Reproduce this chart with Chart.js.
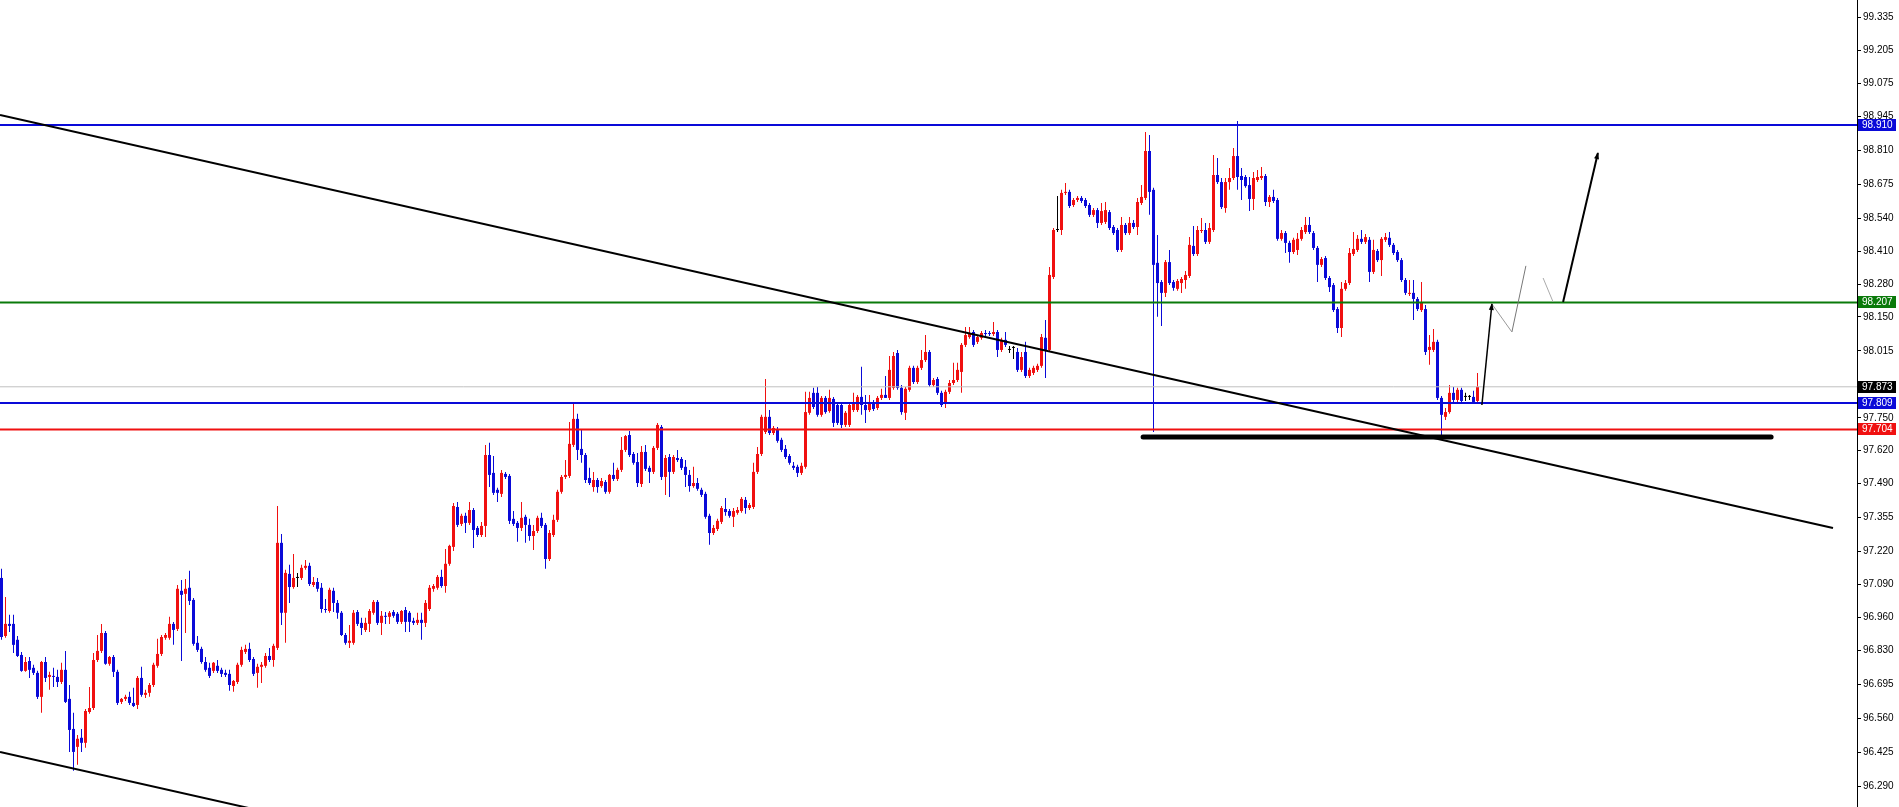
<!DOCTYPE html>
<html>
<head>
<meta charset="utf-8">
<title>USDX H1</title>
<script src="https://cdn.jsdelivr.net/npm/chart.js@4.4.1/dist/chart.umd.min.js"></script>
<style>
  html, body { margin: 0; padding: 0; background: #fff; overflow: hidden; }
  #wrap { width: 1899px; height: 807px; }
</style>
</head>
<body>
<div id="wrap"><canvas id="priceChart" width="1899" height="807"></canvas></div>
<script>
// OHLC per bar, oldest first
const opens = [
  97.116, 96.886, 96.934, 96.934, 96.871, 96.811, 96.748, 96.787, 96.760, 96.740,
  96.645, 96.783, 96.724, 96.728, 96.724, 96.704, 96.752, 96.637, 96.518, 96.447,
  96.483, 96.463, 96.585, 96.601, 96.791, 96.827, 96.898, 96.776, 96.803, 96.744,
  96.625, 96.637, 96.645, 96.621, 96.613, 96.720, 96.653, 96.661, 96.692, 96.768,
  96.815, 96.879, 96.879, 96.934, 96.914, 97.065, 97.053, 97.077, 97.029, 96.859,
  96.835, 96.783, 96.760, 96.748, 96.768, 96.752, 96.740, 96.736, 96.688, 96.704,
  96.772, 96.823, 96.835, 96.795, 96.740, 96.764, 96.768, 96.807, 96.791, 96.839,
  97.255, 96.978, 97.132, 97.080, 97.116, 97.116, 97.156, 97.164, 97.088, 97.100,
  97.077, 96.993, 96.985, 97.065, 97.017, 96.978, 96.890, 96.859, 96.859, 96.981,
  96.938, 96.910, 96.934, 96.978, 97.021, 96.938, 96.966, 96.962, 96.981, 96.974,
  96.942, 96.989, 96.978, 96.946, 96.938, 96.950, 96.938, 96.993, 97.073, 97.077,
  97.120, 97.084, 97.172, 97.239, 97.397, 97.330, 97.362, 97.334, 97.385, 97.314,
  97.286, 97.322, 97.603, 97.532, 97.465, 97.449, 97.528, 97.520, 97.350, 97.334,
  97.314, 97.358, 97.326, 97.282, 97.302, 97.354, 97.326, 97.191, 97.286, 97.346,
  97.457, 97.516, 97.520, 97.643, 97.746, 97.627, 97.603, 97.512, 97.476, 97.504,
  97.480, 97.496, 97.457, 97.524, 97.508, 97.544, 97.623, 97.682, 97.607, 97.575,
  97.488, 97.615, 97.552, 97.536, 97.631, 97.714, 97.516, 97.595, 97.536, 97.591,
  97.587, 97.556, 97.524, 97.480, 97.492, 97.465, 97.449, 97.362, 97.294, 97.310,
  97.338, 97.389, 97.381, 97.358, 97.374, 97.381, 97.425, 97.393, 97.397, 97.536,
  97.607, 97.694, 97.754, 97.690, 97.706, 97.663, 97.627, 97.599, 97.560, 97.556,
  97.532, 97.556, 97.770, 97.849, 97.849, 97.762, 97.829, 97.777, 97.825, 97.801,
  97.801, 97.722, 97.722, 97.781, 97.781, 97.833, 97.801, 97.781, 97.809, 97.789,
  97.829, 97.841, 97.829, 97.869, 98.007, 97.869, 97.770, 97.861, 97.948, 97.892,
  97.948, 97.979, 98.011, 97.880, 97.904, 97.849, 97.809, 97.853, 97.888, 97.900,
  97.932, 98.039, 98.070, 98.090, 98.051, 98.067, 98.086, 98.086, 98.082, 98.090,
  98.019, 98.059, 98.019, 98.027, 98.011, 97.940, 98.011, 97.916, 97.928, 97.940,
  97.956, 98.067, 98.019, 98.308, 98.494, 98.494, 98.641, 98.645, 98.593, 98.613,
  98.621, 98.613, 98.593, 98.554, 98.573, 98.522, 98.526, 98.565, 98.506, 98.494,
  98.415, 98.514, 98.482, 98.522, 98.506, 98.601, 98.621, 98.807, 98.653, 98.364,
  98.288, 98.245, 98.367, 98.288, 98.261, 98.284, 98.296, 98.312, 98.431, 98.399,
  98.490, 98.494, 98.447, 98.494, 98.712, 98.684, 98.581, 98.684, 98.700, 98.787,
  98.708, 98.704, 98.672, 98.617, 98.692, 98.700, 98.708, 98.605, 98.625, 98.613,
  98.459, 98.482, 98.443, 98.407, 98.415, 98.459, 98.486, 98.514, 98.482, 98.423,
  98.356, 98.383, 98.304, 98.276, 98.181, 98.106, 98.261, 98.284, 98.399, 98.415,
  98.459, 98.447, 98.455, 98.328, 98.411, 98.375, 98.455, 98.463, 98.435, 98.407,
  98.375, 98.296, 98.241, 98.245, 98.221, 98.177, 98.181, 98.019, 98.019, 98.051,
  97.829, 97.754, 97.773, 97.849, 97.821, 97.861, 97.833, 97.833, 97.833, 97.817
];
const highs = [
  97.152, 97.041, 96.970, 96.970, 96.886, 96.823, 96.803, 96.803, 96.772, 96.748,
  96.787, 96.803, 96.744, 96.760, 96.752, 96.780, 96.827, 96.692, 96.582, 96.494,
  96.518, 96.597, 96.684, 96.819, 96.890, 96.934, 96.906, 96.807, 96.811, 96.752,
  96.641, 96.653, 96.665, 96.681, 96.728, 96.764, 96.673, 96.700, 96.780, 96.875,
  96.890, 96.898, 96.962, 96.942, 97.088, 97.108, 97.112, 97.144, 97.037, 96.886,
  96.843, 96.803, 96.780, 96.783, 96.791, 96.760, 96.752, 96.752, 96.712, 96.780,
  96.843, 96.851, 96.859, 96.803, 96.776, 96.783, 96.819, 96.839, 96.855, 97.401,
  97.290, 97.148, 97.168, 97.211, 97.136, 97.168, 97.187, 97.176, 97.120, 97.116,
  97.096, 97.033, 97.077, 97.077, 97.029, 96.985, 96.898, 96.930, 96.989, 96.989,
  96.958, 96.958, 96.993, 97.029, 97.029, 96.985, 96.981, 96.985, 96.989, 96.981,
  96.989, 97.001, 96.985, 96.958, 96.978, 96.978, 97.029, 97.088, 97.092, 97.128,
  97.148, 97.231, 97.247, 97.413, 97.417, 97.370, 97.374, 97.417, 97.393, 97.322,
  97.338, 97.643, 97.651, 97.599, 97.473, 97.544, 97.536, 97.528, 97.381, 97.342,
  97.417, 97.366, 97.350, 97.326, 97.362, 97.374, 97.334, 97.306, 97.366, 97.465,
  97.524, 97.583, 97.734, 97.813, 97.766, 97.702, 97.611, 97.552, 97.536, 97.512,
  97.512, 97.504, 97.528, 97.572, 97.552, 97.674, 97.682, 97.698, 97.615, 97.611,
  97.639, 97.643, 97.560, 97.639, 97.730, 97.722, 97.603, 97.607, 97.603, 97.623,
  97.595, 97.583, 97.544, 97.556, 97.512, 97.473, 97.457, 97.370, 97.326, 97.350,
  97.401, 97.433, 97.389, 97.393, 97.397, 97.437, 97.437, 97.413, 97.572, 97.635,
  97.762, 97.904, 97.781, 97.718, 97.714, 97.671, 97.643, 97.607, 97.575, 97.564,
  97.572, 97.853, 97.853, 97.869, 97.872, 97.837, 97.837, 97.861, 97.833, 97.809,
  97.809, 97.777, 97.809, 97.849, 97.841, 97.952, 97.841, 97.841, 97.821, 97.837,
  97.865, 97.916, 97.995, 98.011, 98.019, 97.880, 97.872, 97.956, 97.956, 97.956,
  98.019, 98.078, 98.019, 97.908, 97.912, 97.857, 97.861, 97.900, 97.968, 97.968,
  98.047, 98.110, 98.110, 98.098, 98.078, 98.094, 98.098, 98.094, 98.130, 98.098,
  98.067, 98.090, 98.035, 98.035, 98.027, 98.011, 98.051, 97.948, 97.956, 97.964,
  98.082, 98.138, 98.348, 98.502, 98.629, 98.653, 98.680, 98.653, 98.621, 98.629,
  98.629, 98.621, 98.601, 98.581, 98.581, 98.601, 98.605, 98.573, 98.514, 98.502,
  98.546, 98.522, 98.546, 98.534, 98.621, 98.672, 98.882, 98.870, 98.661, 98.474,
  98.296, 98.375, 98.415, 98.296, 98.300, 98.308, 98.332, 98.466, 98.510, 98.510,
  98.542, 98.522, 98.522, 98.791, 98.779, 98.700, 98.700, 98.740, 98.819, 98.926,
  98.740, 98.712, 98.704, 98.724, 98.732, 98.744, 98.716, 98.633, 98.653, 98.621,
  98.494, 98.490, 98.451, 98.463, 98.482, 98.506, 98.546, 98.546, 98.490, 98.431,
  98.387, 98.391, 98.312, 98.284, 98.189, 98.288, 98.296, 98.423, 98.486, 98.474,
  98.494, 98.478, 98.466, 98.455, 98.419, 98.466, 98.482, 98.486, 98.443, 98.415,
  98.383, 98.304, 98.296, 98.296, 98.229, 98.288, 98.197, 98.078, 98.102, 98.059,
  97.837, 97.789, 97.880, 97.872, 97.869, 97.869, 97.849, 97.841, 97.857, 97.928
];
const lows = [
  96.871, 96.879, 96.902, 96.819, 96.803, 96.744, 96.744, 96.720, 96.732, 96.637,
  96.582, 96.704, 96.673, 96.684, 96.684, 96.696, 96.621, 96.427, 96.352, 96.376,
  96.427, 96.443, 96.578, 96.593, 96.783, 96.819, 96.772, 96.768, 96.724, 96.613,
  96.617, 96.629, 96.613, 96.605, 96.597, 96.645, 96.641, 96.645, 96.684, 96.760,
  96.807, 96.871, 96.871, 96.851, 96.906, 96.787, 96.898, 97.009, 96.847, 96.823,
  96.776, 96.744, 96.720, 96.740, 96.740, 96.724, 96.724, 96.669, 96.665, 96.696,
  96.764, 96.815, 96.783, 96.728, 96.681, 96.700, 96.760, 96.783, 96.764, 96.831,
  96.930, 96.859, 97.017, 97.073, 97.080, 97.108, 97.148, 97.084, 97.080, 97.061,
  96.978, 96.978, 96.978, 96.981, 96.954, 96.886, 96.851, 96.839, 96.851, 96.926,
  96.890, 96.902, 96.902, 96.970, 96.930, 96.890, 96.934, 96.934, 96.958, 96.934,
  96.934, 96.902, 96.902, 96.930, 96.930, 96.871, 96.922, 96.985, 97.061, 97.069,
  97.077, 97.057, 97.164, 97.223, 97.318, 97.322, 97.294, 97.326, 97.235, 97.278,
  97.278, 97.278, 97.476, 97.445, 97.417, 97.437, 97.508, 97.330, 97.322, 97.259,
  97.302, 97.255, 97.263, 97.227, 97.294, 97.314, 97.152, 97.183, 97.278, 97.338,
  97.449, 97.508, 97.512, 97.635, 97.583, 97.572, 97.492, 97.484, 97.457, 97.453,
  97.473, 97.449, 97.449, 97.500, 97.500, 97.536, 97.615, 97.595, 97.564, 97.476,
  97.476, 97.540, 97.492, 97.528, 97.623, 97.504, 97.445, 97.437, 97.528, 97.575,
  97.544, 97.476, 97.457, 97.473, 97.461, 97.437, 97.350, 97.247, 97.286, 97.302,
  97.330, 97.362, 97.354, 97.318, 97.366, 97.374, 97.370, 97.385, 97.389, 97.528,
  97.599, 97.686, 97.682, 97.682, 97.651, 97.615, 97.587, 97.564, 97.544, 97.516,
  97.524, 97.548, 97.762, 97.785, 97.754, 97.754, 97.766, 97.770, 97.714, 97.722,
  97.710, 97.714, 97.714, 97.773, 97.773, 97.762, 97.730, 97.773, 97.777, 97.781,
  97.821, 97.829, 97.821, 97.861, 97.861, 97.762, 97.742, 97.853, 97.884, 97.884,
  97.940, 97.971, 97.872, 97.872, 97.841, 97.793, 97.789, 97.845, 97.880, 97.892,
  97.849, 98.031, 98.063, 98.031, 98.043, 98.059, 98.074, 98.074, 98.074, 97.991,
  98.011, 98.031, 98.007, 97.983, 97.932, 97.932, 97.908, 97.908, 97.920, 97.932,
  97.948, 97.908, 98.011, 98.300, 98.486, 98.474, 98.633, 98.581, 98.585, 98.605,
  98.601, 98.581, 98.546, 98.546, 98.502, 98.514, 98.518, 98.494, 98.474, 98.407,
  98.407, 98.474, 98.474, 98.498, 98.474, 98.593, 98.613, 98.554, 97.694, 98.150,
  98.114, 98.229, 98.276, 98.253, 98.253, 98.245, 98.261, 98.304, 98.391, 98.391,
  98.482, 98.439, 98.439, 98.486, 98.676, 98.577, 98.562, 98.653, 98.692, 98.653,
  98.613, 98.661, 98.569, 98.573, 98.684, 98.692, 98.589, 98.585, 98.601, 98.451,
  98.451, 98.403, 98.364, 98.399, 98.395, 98.451, 98.478, 98.478, 98.415, 98.288,
  98.348, 98.296, 98.249, 98.169, 98.086, 98.070, 98.253, 98.276, 98.391, 98.407,
  98.439, 98.439, 98.288, 98.320, 98.367, 98.312, 98.447, 98.427, 98.395, 98.367,
  98.288, 98.237, 98.233, 98.138, 98.173, 98.169, 97.999, 97.960, 98.011, 97.821,
  97.674, 97.742, 97.766, 97.813, 97.813, 97.809, 97.817, 97.821, 97.805, 97.809
];
const closes = [
  96.882, 96.934, 96.926, 96.851, 96.807, 96.748, 96.783, 96.752, 96.740, 96.645,
  96.783, 96.720, 96.732, 96.724, 96.704, 96.752, 96.625, 96.514, 96.427, 96.479,
  96.463, 96.589, 96.601, 96.791, 96.827, 96.898, 96.776, 96.803, 96.744, 96.621,
  96.637, 96.645, 96.621, 96.609, 96.720, 96.653, 96.661, 96.692, 96.772, 96.815,
  96.882, 96.890, 96.934, 96.910, 97.073, 97.049, 97.073, 97.025, 96.855, 96.831,
  96.783, 96.752, 96.728, 96.780, 96.748, 96.736, 96.732, 96.692, 96.708, 96.772,
  96.831, 96.835, 96.791, 96.736, 96.764, 96.772, 96.807, 96.791, 96.847, 97.255,
  96.978, 97.136, 97.080, 97.116, 97.116, 97.156, 97.164, 97.092, 97.100, 97.073,
  96.993, 96.989, 97.069, 97.017, 96.978, 96.890, 96.859, 96.867, 96.978, 96.934,
  96.918, 96.938, 96.985, 97.021, 96.938, 96.966, 96.962, 96.978, 96.966, 96.942,
  96.985, 96.942, 96.942, 96.938, 96.950, 96.938, 97.017, 97.077, 97.084, 97.120,
  97.084, 97.172, 97.243, 97.401, 97.326, 97.362, 97.334, 97.385, 97.306, 97.286,
  97.322, 97.603, 97.524, 97.453, 97.453, 97.532, 97.516, 97.342, 97.330, 97.314,
  97.354, 97.326, 97.282, 97.302, 97.354, 97.322, 97.191, 97.294, 97.346, 97.457,
  97.516, 97.524, 97.647, 97.746, 97.623, 97.603, 97.504, 97.492, 97.504, 97.476,
  97.500, 97.457, 97.524, 97.508, 97.544, 97.623, 97.678, 97.603, 97.572, 97.492,
  97.615, 97.548, 97.536, 97.631, 97.722, 97.516, 97.591, 97.536, 97.595, 97.583,
  97.552, 97.524, 97.480, 97.492, 97.469, 97.445, 97.358, 97.294, 97.314, 97.342,
  97.393, 97.377, 97.362, 97.381, 97.385, 97.429, 97.393, 97.405, 97.536, 97.607,
  97.754, 97.754, 97.690, 97.710, 97.659, 97.623, 97.595, 97.572, 97.552, 97.532,
  97.560, 97.773, 97.829, 97.793, 97.762, 97.829, 97.773, 97.829, 97.730, 97.730,
  97.722, 97.770, 97.801, 97.805, 97.833, 97.801, 97.781, 97.809, 97.785, 97.829,
  97.841, 97.829, 97.940, 97.995, 97.869, 97.773, 97.865, 97.948, 97.892, 97.948,
  97.979, 98.011, 97.880, 97.900, 97.849, 97.801, 97.853, 97.888, 97.900, 97.940,
  98.039, 98.078, 98.086, 98.039, 98.070, 98.086, 98.082, 98.082, 98.090, 98.019,
  98.059, 98.039, 98.019, 98.027, 97.940, 97.991, 97.916, 97.940, 97.948, 97.956,
  98.070, 98.019, 98.316, 98.494, 98.494, 98.641, 98.645, 98.589, 98.613, 98.621,
  98.609, 98.589, 98.554, 98.573, 98.522, 98.569, 98.573, 98.502, 98.482, 98.415,
  98.514, 98.482, 98.522, 98.506, 98.605, 98.625, 98.807, 98.645, 98.356, 98.284,
  98.245, 98.367, 98.284, 98.265, 98.292, 98.300, 98.316, 98.435, 98.399, 98.494,
  98.494, 98.447, 98.502, 98.712, 98.684, 98.585, 98.684, 98.700, 98.787, 98.704,
  98.692, 98.668, 98.617, 98.700, 98.704, 98.708, 98.605, 98.625, 98.609, 98.459,
  98.482, 98.443, 98.407, 98.455, 98.459, 98.494, 98.514, 98.486, 98.423, 98.356,
  98.379, 98.304, 98.268, 98.177, 98.106, 98.261, 98.284, 98.403, 98.419, 98.459,
  98.447, 98.466, 98.328, 98.415, 98.375, 98.459, 98.466, 98.435, 98.403, 98.375,
  98.296, 98.245, 98.245, 98.221, 98.181, 98.209, 98.011, 98.031, 98.051, 97.829,
  97.762, 97.773, 97.849, 97.821, 97.861, 97.817, 97.833, 97.833, 97.813, 97.873
];

// price scale labels as shown by the terminal
const priceTicks = [99.335, 99.205, 99.075, 98.945, 98.810, 98.675, 98.540, 98.410, 98.280, 98.150,
  98.015, 97.750, 97.620, 97.490, 97.355, 97.220, 97.090, 96.960, 96.830, 96.695, 96.560, 96.425, 96.290];

// horizontal levels: resistance, target, bid, support, support
const levelPrices = [98.910, 98.207, 97.873, 97.809, 97.704];

// drawn objects, [bar index, price]
const trendUpper = [[-0.375, 98.950], [457.875, 97.314]];
const trendLower = [[-0.375, 96.427], [74.6, 96.159]];
const supportZone = [[285.4, 97.674], [442.4, 97.674]];
const pathLegs = [
  [[370.1, 97.801], [372.6, 98.201]],
  [[372.6, 98.201], [377.6, 98.090]],
  [[377.6, 98.090], [381.1, 98.352]],
  [[385.4, 98.304], [387.9, 98.209]],
  [[390.4, 98.209], [399.1, 98.799]]
];

const RED = '#f01010';
const BLUE = '#0a0ad8';
const levelColors = [BLUE, '#0a7a0a', '#c0c0c0', BLUE, '#f01010'];
const levelWidths = [2, 2, 1, 2, 2];
const boxColors = [BLUE, '#0a7a0a', '#000000', BLUE, '#f01010'];
const legColors = ['#000', '#999', '#777', '#aaa', '#000'];
const legWidths = [1.5, 1, 1, 1, 2];
const legArrow = [true, false, false, false, true];

const candleColors = opens.map((o, i) => closes[i] > o ? RED : (closes[i] < o ? BLUE : '#000'));

const toPts = arr => arr.map(p => ({ x: p[0], y: p[1] }));

const datasets = [];

levelPrices.forEach((p, k) => {
  datasets.push({
    type: 'line',
    data: [{ x: -1, y: p }, { x: 470, y: p }],
    borderColor: levelColors[k],
    borderWidth: levelWidths[k],
    pointRadius: 0,
    order: 5
  });
});

[trendUpper, trendLower].forEach(t => {
  datasets.push({
    type: 'line',
    data: toPts(t),
    borderColor: '#000',
    borderWidth: 2,
    pointRadius: 0,
    order: 4
  });
});

datasets.push({
  type: 'line',
  data: toPts(supportZone),
  borderColor: '#000',
  borderWidth: 5,
  borderCapStyle: 'round',
  pointRadius: 0,
  order: 3
});

pathLegs.forEach((leg, k) => {
  datasets.push({
    type: 'line',
    data: toPts(leg),
    borderColor: legColors[k],
    borderWidth: legWidths[k],
    pointRadius: 0,
    arrowHead: legArrow[k],
    order: 2
  });
});

// candle wicks and bodies
datasets.push({
  type: 'bar',
  data: opens.map((o, i) => ({ x: i, y: [lows[i], highs[i]] })),
  backgroundColor: candleColors,
  barThickness: 1,
  grouped: false,
  borderWidth: 0,
  inflateAmount: 0,
  minBarLength: 1,
  order: 10
});
datasets.push({
  type: 'bar',
  data: opens.map((o, i) => ({ x: i, y: [o, closes[i]] })),
  backgroundColor: candleColors,
  barThickness: 3,
  grouped: false,
  borderWidth: 0,
  inflateAmount: 0,
  minBarLength: 1,
  order: 9
});

const overlayPlugin = {
  id: 'overlay',
  afterDatasetsDraw(chart) {
    const ctx = chart.ctx;
    chart.data.datasets.forEach((ds, i) => {
      if (!ds.arrowHead) return;
      const pts = chart.getDatasetMeta(i).data;
      const a = pts[0], b = pts[pts.length - 1];
      const ang = Math.atan2(b.y - a.y, b.x - a.x);
      const len = 6, half = 2.5;
      const cx = Math.cos(ang), sy = Math.sin(ang);
      ctx.save();
      ctx.fillStyle = ds.borderColor;
      ctx.beginPath();
      ctx.moveTo(b.x + cx, b.y + sy);
      ctx.lineTo(b.x - len * cx + half * sy, b.y - len * sy - half * cx);
      ctx.lineTo(b.x - len * cx - half * sy, b.y - len * sy + half * cx);
      ctx.closePath();
      ctx.fill();
      ctx.restore();
    });
  },
  afterDraw(chart) {
    const y = chart.scales.y;
    const ctx = chart.ctx;
    ctx.save();
    ctx.font = '10px "Liberation Sans", Arial, sans-serif';
    ctx.textBaseline = 'middle';
    ctx.textAlign = 'left';
    levelPrices.forEach((p, k) => {
      const py = Math.round(y.getPixelForValue(p));
      ctx.fillStyle = boxColors[k];
      ctx.fillRect(y.left + 1, py - 6, 38, 12);
      ctx.fillStyle = '#fff';
      ctx.fillText(p.toFixed(3), y.left + 5, py + 0.5);
    });
    ctx.restore();
  }
};

const ctx = document.getElementById('priceChart').getContext('2d');
const priceChart = new Chart(ctx, {
  type: 'bar',
  data: { datasets: datasets },
  plugins: [overlayPlugin],
  options: {
    responsive: false,
    animation: false,
    events: [],
    devicePixelRatio: 1,
    layout: { padding: 0 },
    plugins: {
      legend: { display: false },
      tooltip: { enabled: false },
      title: { display: false }
    },
    scales: {
      x: {
        type: 'linear',
        display: false,
        offset: false,
        min: -0.375,
        max: 463.875
      },
      y: {
        type: 'linear',
        position: 'right',
        min: 96.2088,
        max: 99.405,
        afterFit: s => {
          s.width = 42;
          s.paddingTop = 0;
          s.paddingBottom = 0;
        },
        afterBuildTicks: s => { s.ticks = priceTicks.map(v => ({ value: v })); },
        border: { display: true, color: '#000', width: 1 },
        grid: {
          drawOnChartArea: false,
          drawTicks: true,
          tickLength: 4,
          color: '#000'
        },
        ticks: {
          autoSkip: false,
          padding: 2,
          color: '#000',
          font: { family: '"Liberation Sans", Arial, sans-serif', size: 10 },
          callback: v => Number(v).toFixed(3)
        }
      }
    }
  }
});
</script>
</body>
</html>
